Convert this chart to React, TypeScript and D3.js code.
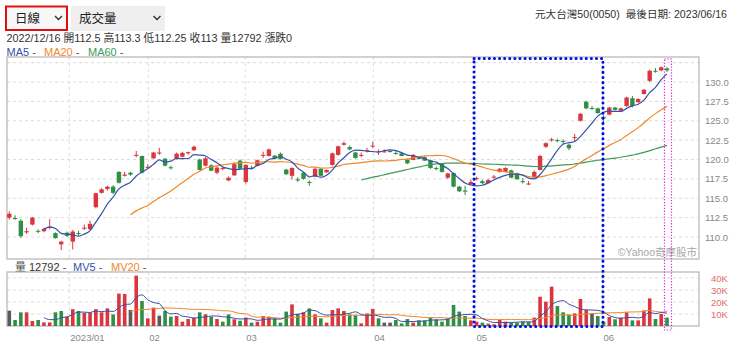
import * as d3 from 'd3';

// daily bars, 2022/12/16 .. 2023/06/16 (元大台灣50)
const opens = [
  112.5, 112.45, 112.1, 110.6, 111.6, 110.8, 110.75, 111.2, 110.5, 109.05,
  110.55, 109.4, 110.5, 111.1, 111.0, 113.85, 115.7, 116.2, 116.5, 118.4,
  117.9, 118.3, 120.55, 120.45, 119.0, 120.15, 120.85, 120.1, 119.0, 120.1,
  120.35, 120.8, 121.2, 120.0, 119.2, 119.25, 118.3, 118.8, 117.3, 117.95,
  119.85, 117.1, 118.95, 119.2, 120.5, 120.45, 120.5, 120.75, 118.7, 117.9,
  117.45, 118.3, 117.1, 117.8, 118.8, 118.35, 119.3, 120.6, 121.9, 121.6,
  120.9, 120.55, 121.1, 121.7, 121.0, 121.0, 121.1, 120.85, 120.8, 120.0,
  119.95, 120.2, 120.3, 119.9, 118.9, 119.45, 117.65, 118.25, 116.5, 116.0,
  116.8, 117.55, 117.2, 116.95, 117.75, 118.4, 118.4, 118.6, 118.2, 117.2,
  116.85, 117.7, 118.65, 121.65, 122.5, 122.5, 122.4, 121.9, 122.8, 125.0,
  127.45, 126.65, 126.6, 125.5, 125.8, 126.7, 126.3, 126.9, 127.9, 127.4,
  128.45, 130.15, 131.45, 131.5, 131.75,
];
const highs = [
  113.3, 112.8, 112.3, 111.2, 112.6, 111.0, 111.2, 112.3, 110.6, 109.5,
  110.7, 110.9, 110.8, 111.6, 112.1, 115.7, 116.3, 116.6, 116.7, 118.5,
  118.4, 118.4, 121.1, 120.5, 119.4, 121.0, 121.5, 120.2, 119.2, 120.9,
  121.0, 121.0, 121.8, 120.1, 120.3, 119.4, 119.1, 119.1, 117.8, 119.6,
  120.0, 119.4, 119.2, 120.0, 121.0, 121.4, 120.6, 120.9, 118.8, 119.0,
  117.7, 118.4, 117.3, 118.9, 118.9, 118.7, 120.9, 121.8, 122.3, 121.8,
  121.0, 120.9, 121.5, 122.3, 121.3, 121.3, 121.3, 121.1, 120.9, 120.1,
  120.7, 120.4, 120.4, 120.0, 119.1, 119.5, 118.3, 118.3, 116.6, 116.6,
  117.4, 117.8, 117.4, 117.5, 118.0, 118.9, 119.0, 118.7, 118.3, 117.6,
  117.2, 118.6, 120.6, 122.2, 122.8, 122.7, 122.6, 122.0, 123.3, 126.0,
  127.6, 126.9, 126.7, 125.7, 126.8, 126.8, 126.7, 128.1, 128.2, 127.9,
  129.1, 131.6, 131.8, 132.0, 131.9,
];
const lows = [
  112.25, 112.2, 109.9, 110.4, 111.5, 110.5, 110.6, 111.0, 109.8, 108.3,
  110.0, 108.4, 110.1, 110.9, 110.9, 113.7, 115.6, 116.0, 115.5, 116.9,
  117.8, 117.9, 120.3, 118.2, 118.8, 120.1, 120.6, 119.1, 118.7, 120.0,
  120.3, 120.6, 121.1, 118.6, 119.1, 118.5, 118.1, 118.6, 117.2, 117.9,
  118.7, 116.9, 118.7, 119.1, 120.2, 120.4, 120.0, 120.0, 118.0, 117.4,
  117.1, 117.4, 116.6, 117.7, 117.8, 118.3, 119.2, 120.5, 121.8, 121.2,
  120.1, 120.3, 120.9, 121.5, 120.6, 120.9, 120.9, 120.6, 120.4, 119.4,
  119.9, 120.0, 119.8, 118.8, 118.6, 118.3, 117.5, 116.4, 115.8, 115.4,
  116.7, 117.3, 116.8, 116.9, 117.5, 118.3, 118.3, 117.6, 117.4, 116.9,
  116.7, 117.6, 118.6, 121.5, 122.3, 122.2, 122.0, 121.2, 122.3, 124.9,
  126.5, 126.4, 125.9, 124.8, 125.7, 126.3, 126.2, 126.8, 126.7, 127.3,
  128.4, 130.0, 131.2, 131.4, 131.3,
];
const closes = [
  113, 112.35, 110.1, 110.75, 112.5, 110.7, 111.05, 111.35, 109.85, 109.4,
  110.15, 110.7, 110.4, 111.2, 111.7, 115.65, 116.15, 116.5, 115.7, 117.0,
  118.05, 118.05, 120.6, 118.3, 119.05, 120.9, 120.9, 119.2, 118.9, 120.75,
  120.85, 120.95, 121.65, 118.65, 120.15, 118.55, 118.95, 118.9, 117.65, 119.4,
  118.8, 119.3, 118.9, 119.9, 120.6, 121.3, 120.1, 120.05, 118.1, 118.9,
  117.3, 117.5, 117.05, 118.8, 117.9, 118.65, 120.8, 121.7, 122.1, 121.3,
  120.2, 120.6, 121.2, 121.8, 121.05, 121.05, 121.05, 120.8, 120.45, 119.5,
  120.6, 120.15, 119.85, 118.9, 118.8, 118.4, 118.2, 116.5, 115.9, 115.85,
  117.1, 117.6, 116.95, 117.35, 117.8, 118.8, 118.9, 117.65, 117.45, 117.1,
  116.9, 118.4, 120.45, 122.1, 122.6, 122.4, 122.3, 121.45, 122.9, 125.9,
  126.6, 126.6, 126.0, 125.3, 126.7, 126.4, 126.6, 128.0, 126.9, 127.8,
  129.0, 131.45, 131.4, 131.9, 131.5,
];
const volumes = [
  12792, 5000, 11400, 11400, 4200, 5000, 3000, 3000, 11400, 12500,
  7800, 14000, 12500, 11000, 11000, 14000, 11400, 14700, 9700, 27000,
  26700, 13300, 42000, 20800, 6400, 15300, 8600, 12500, 7800, 8300,
  3600, 5800, 7000, 11400, 9700, 7800, 5800, 3600, 9700, 5600,
  4400, 7000, 2800, 3600, 8300, 7800, 6400, 2800, 12000, 18000,
  10000, 11400, 14700, 9700, 6400, 2800, 13300, 14700, 12500, 9700,
  9000, 2200, 10500, 14200, 6400, 2800, 2800, 5000, 2200, 5800,
  2800, 4700, 4700, 7000, 5600, 3600, 6400, 17500, 12000, 8300,
  4700, 3600, 2800, 2000, 1400, 5000, 3600, 2800, 2800, 3600,
  3600, 7000, 24400, 20300, 32800, 16700, 11400, 9700, 10500, 22500,
  13300, 10500, 8300, 3600, 7500, 5600, 7000, 11400, 4700, 4700,
  13000, 23000, 5800, 10000, 7000,
];
const prevClose = 113; // 12/15 close, 漲跌0 on the first bar

const priceTicks = [110, 112.5, 115, 117.5, 120, 122.5, 125, 127.5, 130];
const priceGrid = [...priceTicks, 132.5];
const volumeTicks = [10000, 20000, 30000, 40000];
const volumeTickLabels = ['10K', '20K', '30K', '40K'];
const monthLabels = ['2023/01', '02', '03', '04', '05', '06'];
const monthPos = [10.4, 24.1, 40.9, 63.1, 80.8, 102.8];

const UP = '#d9363e';
const DOWN = '#2f8f46';
const FLAT = '#5a5a5a';
const MA5C = '#3552a8';
const MA20C = '#f0882a';
const MA60C = '#3f9a5c';
const FONT = '"Liberation Sans", Arial, "Noto Sans CJK TC", sans-serif';

const L = 7, R = 699;
const mainTop = 57, mainBottom = 259;
const volTop = 272, volBottom = 326;

function movingAvg(vals: number[], n: number) {
  return vals.map((_, i) => (i < n ? null : d3.mean(vals.slice(i - n + 1, i + 1)) as number));
}

export default function App() {
  const n = closes.length;
  const x = d3.scaleLinear().domain([0, n - 1]).range([9.3, 667]);
  const yP = d3.scaleLinear().domain([110, 130]).range([237, 82]);
  const yV = d3.scaleLinear().domain([0, 40000]).range([volBottom, 278]);

  const pLine = d3.line<number | null>()
    .defined(d => d != null)
    .x((_, i) => x(i))
    .y(d => yP(d as number))
    .curve(d3.curveMonotoneX);
  const vLine = d3.line<number | null>()
    .defined(d => d != null)
    .x((_, i) => x(i))
    .y(d => yV(d as number))
    .curve(d3.curveMonotoneX);

  const ma5 = movingAvg(closes, 5);
  const ma20 = movingAvg(closes, 20);
  const ma60 = movingAvg(closes, 60);
  const mv5 = movingAvg(volumes, 5);
  const mv20 = movingAvg(volumes, 20);

  const candleColor = (i: number) =>
    closes[i] > opens[i] ? UP : closes[i] < opens[i] ? DOWN : FLAT;
  const volColor = (i: number) => {
    const prev = i === 0 ? prevClose : closes[i - 1];
    return closes[i] > prev ? UP : closes[i] < prev ? DOWN : FLAT;
  };

  const chevron = (cx: number, cy: number) =>
    `M${cx - 3.5},${cy - 2} L${cx},${cy + 1.5} L${cx + 3.5},${cy - 2}`;

  return (
    <svg
      width={740}
      height={351}
      style={{ position: 'absolute', left: 0, top: 0, background: '#fff', fontFamily: FONT }}
    >
      {/* selects */}
      <rect x={6} y={6.5} width={61} height={23.5} fill="#f7f7f7" stroke="#e01010" strokeWidth={2} />
      <text x={15} y={23} fontSize={12.5} fill="#222">日線</text>
      <path d={chevron(58.5, 18)} fill="none" stroke="#333" strokeWidth={1.4} />
      <rect x={71} y={6} width={94} height={25} fill="#efefef" />
      <text x={79} y={23} fontSize={12.5} fill="#222">成交量</text>
      <path d={chevron(157, 18)} fill="none" stroke="#333" strokeWidth={1.4} />

      <text y={17.5} fontSize={10.6} fill="#333">
        <tspan x={535}>元大台灣50(0050)</tspan>
        <tspan x={727} textAnchor="end">最後日期: 2023/06/16</tspan>
      </text>
      <text x={6.5} y={41.5} fontSize={10.8} fill="#333">
        2022/12/16 開112.5 高113.3 低112.25 收113 量12792 漲跌0
      </text>
      <text y={55.5} fontSize={11}>
        <tspan x={6.5} fill={MA5C}>MA5</tspan>
        <tspan fill="#555"> - </tspan>
        <tspan x={44} fill={MA20C}>MA20</tspan>
        <tspan fill="#555"> - </tspan>
        <tspan x={88} fill={MA60C}>MA60</tspan>
        <tspan fill="#555"> - </tspan>
      </text>

      {/* price panel */}
      <g>
        {priceGrid.map(t => (
          <line key={t} x1={L} x2={R} y1={yP(t)} y2={yP(t)} stroke="#dcdcdc" strokeDasharray="3,3" />
        ))}
        {monthPos.map(p => (
          <line key={p} x1={x(p)} x2={x(p)} y1={mainTop} y2={mainBottom} stroke="#dcdcdc" strokeDasharray="3,3" />
        ))}
        <rect x={L} y={mainTop} width={R - L} height={mainBottom - mainTop} fill="none" stroke="#b4b4b4" strokeWidth={1.2} />
        {priceTicks.map(t => (
          <text key={t} x={705} y={yP(t) + 3.5} fontSize={9.5} fill="#888">{t.toFixed(1)}</text>
        ))}
        <text x={697} y={256} fontSize={10.5} fill="#a8a8a8" textAnchor="end">©Yahoo奇摩股市</text>

        {closes.map((c, i) => {
          const col = candleColor(i);
          const top = yP(Math.max(opens[i], c));
          const bot = yP(Math.min(opens[i], c));
          return (
            <g key={i}>
              <line x1={x(i)} x2={x(i)} y1={yP(highs[i])} y2={yP(lows[i])} stroke={col} strokeWidth={1} />
              <rect x={x(i) - 2.2} y={top} width={4.4} height={Math.max(1, bot - top)} fill={col} />
            </g>
          );
        })}

        <path d={pLine(ma60.map((v, i) => (i > 60 ? v : null))) || ''} fill="none" stroke={MA60C} strokeWidth={1.2} />
        <path d={pLine(ma20.map((v, i) => (i > 20 ? v : null))) || ''} fill="none" stroke={MA20C} strokeWidth={1.2} />
        <path d={pLine(ma5.map((v, i) => (i > 5 ? v : null))) || ''} fill="none" stroke={MA5C} strokeWidth={1.2} />
      </g>

      {/* volume panel */}
      <text y={271} fontSize={11}>
        <tspan x={15} fill="#555">量</tspan>
        <tspan x={29} fill="#333">12792</tspan>
        <tspan fill="#555"> - </tspan>
        <tspan x={73} fill={MA5C}>MV5</tspan>
        <tspan fill="#555"> - </tspan>
        <tspan x={111} fill={MA20C}>MV20</tspan>
        <tspan fill="#555"> - </tspan>
      </text>
      <g>
        {volumeTicks.map(t => (
          <line key={t} x1={L} x2={R} y1={yV(t)} y2={yV(t)} stroke="#dcdcdc" strokeDasharray="3,3" />
        ))}
        {monthPos.map(p => (
          <line key={p} x1={x(p)} x2={x(p)} y1={volTop} y2={volBottom} stroke="#dcdcdc" strokeDasharray="3,3" />
        ))}
        <rect x={L} y={volTop} width={R - L} height={volBottom - volTop} fill="none" stroke="#b4b4b4" strokeWidth={1.2} />
        {volumeTicks.map((t, k) => (
          <text key={t} x={711} y={yV(t) + 3.5} fontSize={9.5} fill="#e06a6a">{volumeTickLabels[k]}</text>
        ))}
        {volumes.map((v, i) => (
          <rect key={i} x={x(i) - 1.8} y={yV(v)} width={3.6} height={volBottom - yV(v)} fill={volColor(i)} />
        ))}
        <path d={vLine(mv20.map((v, i) => (i > 20 ? v : null))) || ''} fill="none" stroke={MA20C} strokeWidth={1} />
        <path d={vLine(mv5.map((v, i) => (i > 5 ? v : null))) || ''} fill="none" stroke={MA5C} strokeWidth={1} />
        {monthLabels.map((m, k) => (
          <text key={m} x={x(monthPos[k]) + 1} y={341} fontSize={9.5} fill="#888">{m}</text>
        ))}
      </g>

      {/* highlight boxes */}
      <rect x={x(80.55)} y={58.5} width={x(102.9) - x(80.55)} height={268} fill="none"
        stroke="#0010e0" strokeWidth={3} strokeDasharray="0.1 5" strokeLinecap="round" />
      <rect x={x(n - 1) - 2.5} y={59} width={7} height={271} fill="none"
        stroke="#e030e0" strokeWidth={1.2} strokeDasharray="1.3 1.6" />
    </svg>
  );
}
